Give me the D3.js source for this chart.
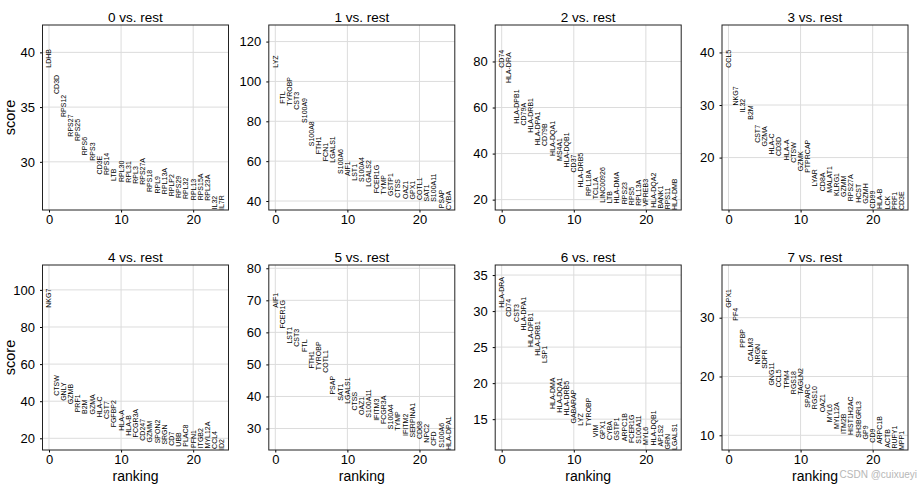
<!DOCTYPE html>
<html><head><meta charset="utf-8">
<script src="https://cdn.jsdelivr.net/npm/d3@7"></script>
<style>
body{margin:0;background:#fff}
svg{display:block}
text{font-family:"Liberation Sans",Arial,sans-serif}
</style>
</head><body>
<svg id="c" width="920" height="493"></svg>
<script>
const titles = ["0 vs. rest","1 vs. rest","2 vs. rest","3 vs. rest","4 vs. rest","5 vs. rest","6 vs. rest","7 vs. rest"];
const xTicks = [0, 10, 20];

const genes0 = ["LDHB","CD3D","RPS12","RPS27","RPS25","RPS6","RPS3","CD3E","RPS14","LTB","RPL30","RPL31","RPL3","RPS27A","RPS18","RPL9","RPL13A","RPLP2","RPS29","RPL32","RPL13","RPS15A","RPL23A","IL32","IL7R"];
const scores0 = [38.6,36.2,34.1,32.3,31.9,30.6,30.1,28.85,28.8,28.25,28.15,28.1,28.0,27.9,27.25,27.1,27.05,26.85,26.7,26.6,26.5,26.48,26.45,25.65,25.6];
const yTicks0 = [30,35,40];

const genes1 = ["LYZ","FTL","TYROBP","CST3","S100A9","S100A8","FTH1","FCN1","LGALS1","S100A6","AIF1","LST1","S100A4","LGALS2","FCER1G","TYMP","GSTP1","CTSS","OAZ1","GPX1","COTL1","SAT1","S100A11","PSAP","CYBA"];
const scores1 = [106.9,88.8,87.8,85.8,79.2,67.5,63.5,60.0,59.2,53.6,52.5,50.2,49.5,47.2,43.9,43.3,42.5,41.7,41.0,40.8,40.5,39.8,39.6,36.4,35.5];
const yTicks1 = [40,60,80,100,120];

const genes2 = ["CD74","HLA-DRA","HLA-DPB1","CD79A","HLA-DRB1","HLA-DPA1","CD79B","HLA-DQA1","MS4A1","HLA-DQB1","CD37","HLA-DRB5","RPL18A","TCL1A","LINC00926","LTB","HLA-DMA","RPS23","RPS5","RPL13A","VPREB3","HLA-DQA2","BANK1","RPS11","HLA-DMB"];
const scores2 = [77.3,70.6,53.0,52.2,49.1,43.6,43.3,39.0,36.8,34.0,31.8,25.3,21.6,20.2,18.7,18.4,18.35,18.0,17.6,17.3,17.0,16.5,16.1,15.8,15.5];
const yTicks2 = [20,40,60,80];

const genes3 = ["CCL5","NKG7","IL32","B2M","CST7","GZMA","HLA-C","CD3D","HLA-A","CTSW","GZMK","PTPRCAP","LYAR","CD8A","MALAT1","KLRG1","GZMM","RPS27A","HCST","GZMH","CD99","HLA-B","LCK","PRF1","CD3E"];
const scores3 = [37.1,29.9,28.6,27.2,22.8,22.1,20.6,20.3,19.5,19.0,17.4,17.1,14.5,13.6,13.3,12.7,12.5,11.7,11.4,11.2,10.3,10.2,10.15,10.1,10.03];
const yTicks3 = [20,30,40];

const genes4 = ["NKG7","CTSW","GNLY","GZMB","PRF1","B2M","GZMA","HLA-C","CST7","FGFBP2","HLA-A","HLA-B","FCGR3A","CD247","GZMM","SPON2","SRGN","CD7","UBB","PLAC8","PFN1","ITGB2","MYL12A","CCL4","ID2"];
const scores4 = [90.4,42.9,40.2,38.4,34.0,33.1,32.8,31.3,30.4,25.9,24.1,21.4,20.5,18.7,17.8,17.3,16.6,16.0,15.5,15.45,14.8,14.6,14.5,14.3,13.7];
const yTicks4 = [20,40,60,80,100];

const genes5 = ["AIF1","FCER1G","LST1","CST3","FTL","FTH1","TYROBP","COTL1","PSAP","SAT1","LGALS1","CTSS","OAZ1","S100A11","IFITM3","FCGR3A","S100A4","TYMP","IFITM2","SERPINA1","CD68","NPC2","CFD","S100A6","HLA-DPA1"];
const scores5 = [67.7,61.2,56.5,55.5,53.9,48.7,48.2,47.4,40.6,38.7,37.7,35.6,34.2,33.4,32.4,31.4,29.8,29.3,27.7,27.2,26.7,25.6,24.6,24.0,23.3];
const yTicks5 = [30,40,50,60,70,80];

const genes6 = ["HLA-DRA","CD74","CST3","HLA-DPA1","HLA-DPB1","HLA-DRB1","LSP1","HLA-DMA","HLA-DQA1","HLA-DRB5","GABARAP","LYZ","TYROBP","VIM","GPX1","CYBA","GSTP1","ARPC1B","FCER1G","S100A11","MYL6","HLA-DQB1","AP1S2","GRN","LGALS1"];
const scores6 = [30.47,29.2,28.5,27.3,25.0,23.8,22.8,16.4,15.9,15.5,14.4,14.1,14.0,12.5,12.2,12.1,12.05,11.95,11.7,11.6,11.4,11.35,11.2,10.8,10.72];
const yTicks6 = [15,20,25,30,35];

const genes7 = ["GPX1","PF4","PPBP","CALM3","NRGN","SDPR","GNG11","CCL5","TPM4","RGS18","TAGLN2","SPARC","RGS10","OAZ1","MYL6","MYL12A","ITM2B","HIST1H2AC","SH3BGRL3","GP9","CD9","ARPC1B","ACTB","RUFY1","MPP1"];
const scores7 = [31.7,29.5,24.9,22.6,22.05,21.3,18.45,18.15,17.9,17.0,16.9,14.7,14.45,13.9,12.2,11.05,10.2,10.05,9.6,9.3,8.75,8.5,7.9,7.75,7.5];
const yTicks7 = [10,20,30];

const panels = [
  {genes:genes0, scores:scores0, yTicks:yTicks0},
  {genes:genes1, scores:scores1, yTicks:yTicks1},
  {genes:genes2, scores:scores2, yTicks:yTicks2},
  {genes:genes3, scores:scores3, yTicks:yTicks3},
  {genes:genes4, scores:scores4, yTicks:yTicks4},
  {genes:genes5, scores:scores5, yTicks:yTicks5},
  {genes:genes6, scores:scores6, yTicks:yTicks6},
  {genes:genes7, scores:scores7, yTicks:yTicks7}
];

const svg = d3.select("#c");
svg.append("rect").attr("width",920).attr("height",493).attr("fill","#fff");

const lefts = [42.5, 268.8, 495.2, 722];
const tops = [25, 265];
const W = 186, H = 185;

panels.forEach((p, i) => {
  const col = i % 4, row = Math.floor(i / 4);
  const x0 = lefts[col], y0 = tops[row];
  const n = p.genes.length;
  const x = d3.scaleLinear().domain([-0.9, n - 0.1]).range([x0, x0 + W]);
  const mn = d3.min(p.scores), mx = d3.max(p.scores);
  const y = d3.scaleLinear().domain([mn, mx + 0.3 * (mx - mn)]).range([y0 + H, y0]);
  const g = svg.append("g");

  // grid
  g.selectAll("line.gx").data(xTicks).join("line").attr("class","gx")
    .attr("x1", d => x(d)).attr("x2", d => x(d)).attr("y1", y0).attr("y2", y0 + H)
    .attr("stroke", "#dcdcdc").attr("stroke-width", 1);
  g.selectAll("line.gy").data(p.yTicks).join("line").attr("class","gy")
    .attr("x1", x0).attr("x2", x0 + W).attr("y1", d => y(d)).attr("y2", d => y(d))
    .attr("stroke", "#dcdcdc").attr("stroke-width", 1);

  // axes
  const xa = g.append("g").attr("transform", `translate(0,${y0 + H})`)
    .call(d3.axisBottom(x).tickValues(xTicks).tickFormat(d3.format("d")).tickSize(2.5).tickPadding(1.8));
  const ya = g.append("g").attr("transform", `translate(${x0},0)`)
    .call(d3.axisLeft(y).tickValues(p.yTicks).tickFormat(d3.format("d")).tickSize(2.5).tickPadding(5));
  [xa, ya].forEach(a => {
    a.select(".domain").remove();
    a.selectAll("text").attr("font-size", 13).attr("fill", "#000")
      .style("font-family", '"Liberation Sans",Arial,sans-serif');
    a.selectAll("line").attr("stroke", "#000");
  });

  // gene labels
  g.selectAll("text.gene").data(p.genes).join("text").attr("class","gene")
    .attr("transform", (d, k) => `translate(${x(k)},${y(p.scores[k])}) rotate(-90)`)
    .attr("dy", "0.35em")
    .attr("text-anchor", "start")
    .attr("font-size", 7)
    .attr("fill", "#000")
    .text(d => d);

  // frame
  g.append("rect").attr("x", x0).attr("y", y0).attr("width", W).attr("height", H)
    .attr("fill", "none").attr("stroke", "#222").attr("stroke-width", 1);

  // title
  g.append("text").attr("x", x0 + W / 2).attr("y", y0 - 3.5)
    .attr("text-anchor", "middle").attr("font-size", 13.5).attr("fill", "#000").text(titles[i]);

  if (col === 0) {
    g.append("text").attr("transform", `translate(15,${y0 + H / 2}) rotate(-90)`)
      .attr("text-anchor", "middle").attr("font-size", 14.5).attr("fill", "#000").text("score");
  }
  if (row === 1) {
    g.append("text").attr("x", x0 + W / 2).attr("y", 481)
      .attr("text-anchor", "middle").attr("font-size", 14).attr("fill", "#000").text("ranking");
  }
});

svg.append("text").attr("x", 917).attr("y", 478).attr("text-anchor", "end")
  .attr("font-size", 10).attr("fill", "#b0b0b0").attr("opacity", 0.9).text("CSDN @cuixueyi");
</script>
</body></html>
